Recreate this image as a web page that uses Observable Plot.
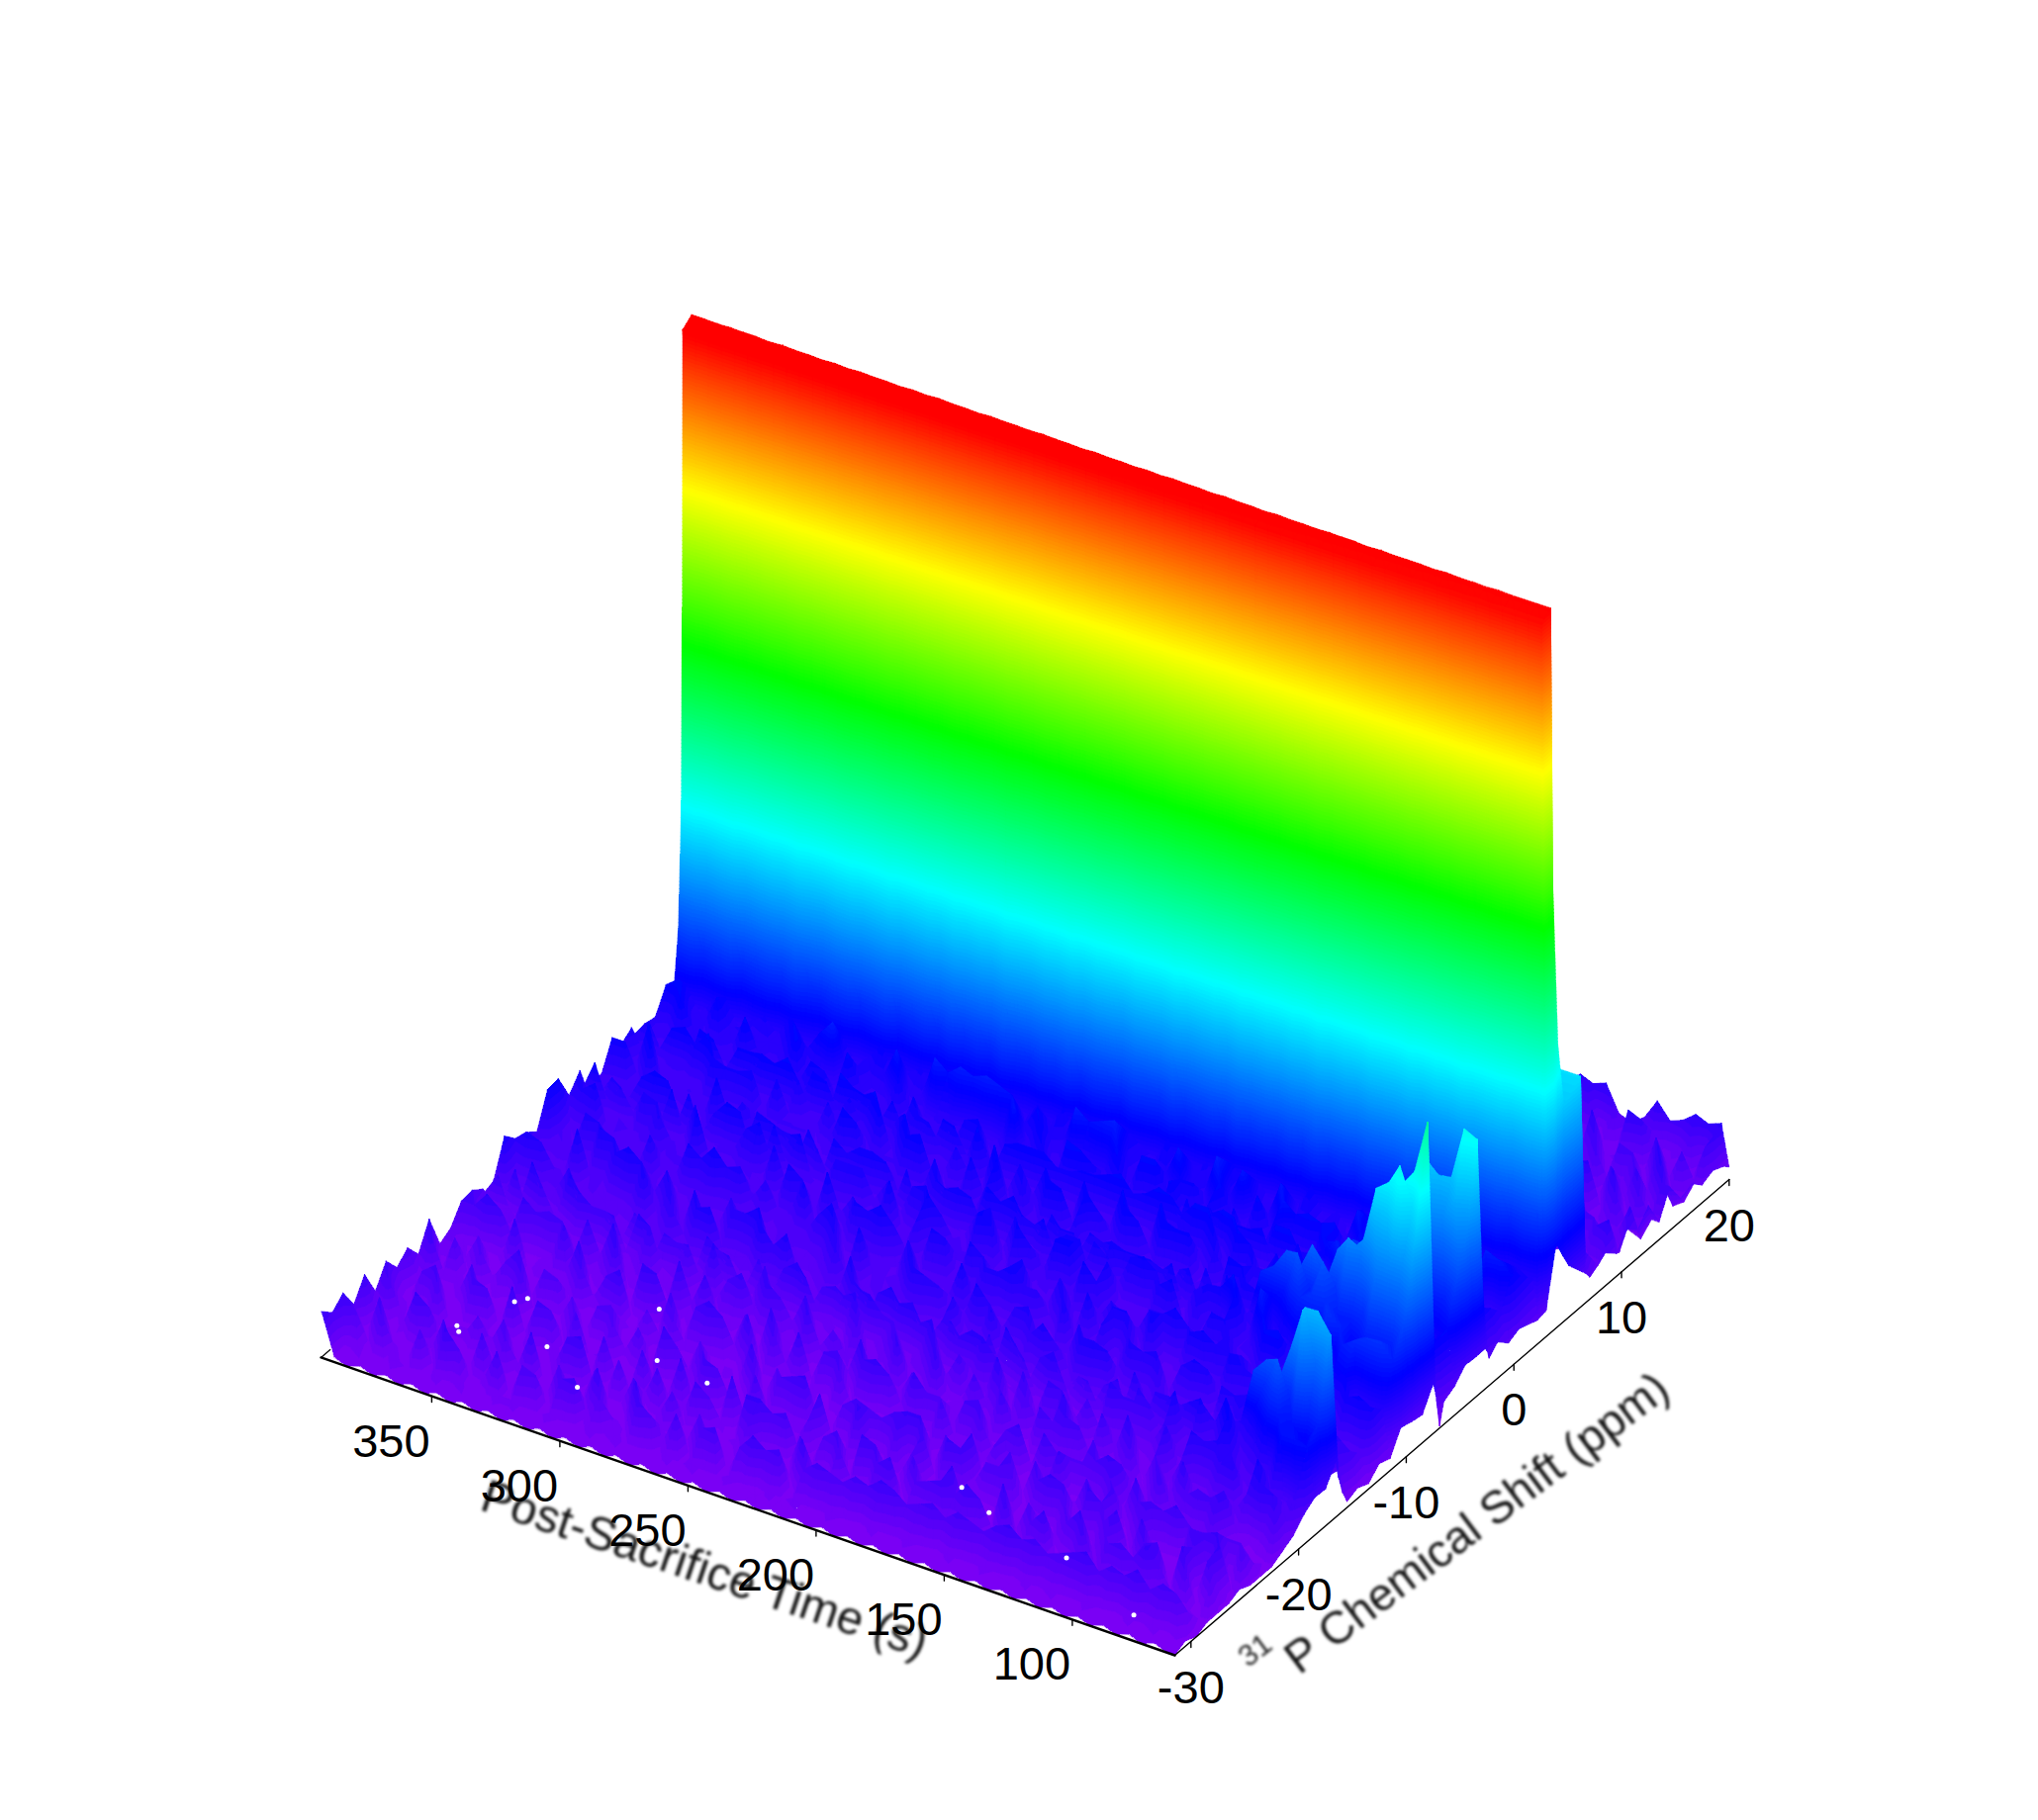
<!DOCTYPE html>
<html><head><meta charset="utf-8">
<style>html,body{margin:0;padding:0;background:#fff}</style>
<script src="https://cdn.jsdelivr.net/npm/d3@7"></script>
<script src="https://cdn.jsdelivr.net/npm/@observablehq/plot@0.6"></script>
</head><body><div id="chart"></div>
<script>
// Time rows, far to near (s)
const times = [393,388,383,378,373,368,363,358,353,348,343,338,333,328,323,318,313,308,303,298,293,288,283,278,273,268,263,258,253,248,243,238,233,228,223,218,213,208,203,198,193,188,183,178,173,168,163,158,153,148,143,138,133,128,123,118,113,108,103,98,93,88,83,78,73,68,63,60];
// Chemical-shift columns in front of the large peak (ppm)
const frontPpm = [-31.5,-30.5,-29.5,-28.5,-27.5,-26.5,-25.5,-24.5,-23.5,-22.5,-21.5,-20.5,-19.5,-18.5,-17.5,-16.5,-16.3,-15.9,-15.5,-14.5,-13.5,-12.5,-11.5,-10.5,-9.5,-8.5,-7.5,-7.3,-6.9,-6.5,-5.5,-4.5,-3.5,-2.7,-2.5,-2.3,-1.5,-0.5,0.5];
// Slow rise of the baseline towards the large peak (% of full height)
const frontFoot = [0,0,0,0,0,0,0,0,0,0,0,.3,.5,.8,1,1.3,1.4,1.6,2,2.5,3,3.3,3.5,3.8,4,4,4,4,4.2,4.3,4.5,4.7,5,5.2,5.3,5.4,5.6,6,7];
// Baseline noise, one character per column of frontPpm, one row per time
const frontNoise = [
"979594857492366432396539947333274533325",
"116017201802160170218012061902170126017",
"021802160271091208017020180260119021071",
"107120180216071020913017201602180270120",
"012091702160128017021906120217001280216",
"120271018021906102170182017029010618021",
"017102180261007201902170126108020917012",
"101802170190216028010720160912017002180",
"029016102710281006021907120180126017021",
"116002190170218016102710208012906017201",
"020817012061902170018201290160207181026",
"102160280117029010621708012091620170182",
"018021071602180290127016002180217091206",
"120190216007102810260129017008121602719",
"027102180619002170128016029107020182601",
"116028010720910260182017102906120170182",
"010719026012801720091602180271006129021",
"127001802160290118027016012908020617102",
"018260107128021906017201802160091270218",
"102917020160281070129012600218071902160",
"026010819027016021090218017026108127001",
"113072016029018107260120917018021602709",
"021908102617002801290160207118029016027",
"118020917012608027100291602107180260129",
"016271080219016029102708116002190127018",
"102018270160912081026017291080120271609",
"028106020917108026011929107201806021708",
"111702906012180217090126028017102916027",
"027010281609021071802102691071280210292",
"118029017201061908021270160281029170216",
"010269108027126091702818021072691082172",
"126017029108210261908017216029117082601",
"019208120170912608127010298017162081029",
"107102690218017029106218071029118260917",
"028170116029081270201926108270192061828",
"110926018207102910682170291062180271629",
"026108297012618028109271062918028170182",
"118270106219082171026098120271691082610",
"017029118026107291082160298172061290281",
"126108279016210928017261098127029161082",
"018270109281071602918027110826092171028",
"107291680127029108261072910682170291862",
"029108117028160271092810682171029180261",
"118260291071828017261092108270192618029",
"016172089120261079128016209271082910682",
"127089120671028160291782107261082917028",
"018261072190827106291082170926108291702",
"106290178021692071082617290180261972081",
"028170261092817026108297016218029171028",
"117029108261702918027109268102917082691",
"016281072960182710928016207192861029172",
"128017290168021790261082719028167029182",
"019260182170291608217092681027192860172",
"107192608291702168029176102890217062981",
"028106291782016927108260192781026179208",
"116029178201692078102961702890162791082",
"027182601927102860192718026109278102968",
"118026917082690127182609271802169027182",
"019270168029172601892710286091728016297",
"126081927160289017268109271682091726108",
"018267019281760291682017926108297160281",
"107298016271802691072981602179028160297",
"029160281792016827109268017926081927168",
"116029781026917082609178260197208167092",
"028170296108271960182709168027916082179",
"117208916027180296170829160278019627108",
"024152173162362415352614362134263243526",
"010111211123565733121326547504576565756"
];
// Peak position (ppm) per time row
const peakPpm = [2.05,2.07,2.09,2.1,2.12,2.14,2.16,2.18,2.2,2.22,2.24,2.26,2.27,2.29,2.31,2.33,2.35,2.37,2.39,2.41,2.42,2.44,2.46,2.48,2.5,2.52,2.54,2.56,2.57,2.59,2.61,2.63,2.65,2.67,2.69,2.71,2.72,2.74,2.76,2.78,2.8,2.82,2.84,2.86,2.87,2.89,2.91,2.93,2.95,2.97,2.99,3.01,3.02,3.04,3.06,3.08,3.1,3.12,3.14,3.16,3.17,3.19,3.21,3.23,3.25,3.27,3.29,3.05];
// Crest height per time row (% of full height)
const crestHeight = [98.6,98.6,98.5,98.6,98.5,98.5,98.4,98.5,98.4,98.4,98.3,98.4,98.3,98.4,98.3,98.3,98.2,98.3,98.2,98.3,98.2,98.2,98.1,98.2,98.1,98.1,98,98.1,98,98,97.9,98,97.9,97.9,97.8,97.9,97.8,97.9,97.8,97.8,97.7,97.8,97.7,97.7,97.6,97.7,97.6,97.6,97.5,97.6,97.5,97.5,97.4,97.5,97.4,97.4,97.4,97.3,97.4,97.3,97.3,97.2,97.3,97.2,97.2,97.2,97.2,11];
// Flank width per time row (% of the mean flank)
const flankWidth = [100,118,84,106,122,81,99,112,90,126,94,78,108,120,86,102,130,80,96,114,84,122,92,106,79,128,100,88,116,94,124,82,110,98,76,118,104,90,130,86,100,112,80,124,96,108,84,116,92,132,88,102,78,120,106,94,126,84,112,98,128,90,104,116,82,108,100,100];
// Shape of the large peak: offset from the crest (ppm) and fraction of crest height
const peakOffset = [-0.85,-0.4,-0.15,-0.05,0,0.83,1.0,1.5,2.05,3.6,4.0];
const peakShape = [.085,.17,.32,.6,.99,1,.62,.38,.29,.31,.06];
// Open lower edge of the large peak at the nearest time (% of full height)
const nearestEdge = [3.2,3.4,3.5,3.6,4,11,11,9,7,4,3];
// Floor behind the large peak, visible only at short times
const backPpm = [8.5,9.5,10.5,11.5,12.5,13.5,14.5,15.5,16.5,17.5,18.5,19.5,20];
const backTimes = [138,133,128,123,118,113,108,103,98,93,88,83,78,73,68,63,60];
const backNoise = [
"1402170291406","2170418021705","0281027160324","1702160281907","3016208017269","2170291602178",
"0291704180219","1602817029154","2810160271023","0172081602915","2601290170849","1028017260216",
"3170291608127","0261708291069","1702160917028","2918027102789","5364727342321"
];
// The three small peaks that fade with time
const ridgeTimes = [60,63,68,73,78,83,88,93,98,103,108,113,118,123,128,133,138,143,148,153,158];
const ridgeA = [2,37,29,28,27,20,18,16,12,11,10,11,8,6,4,3,2,1,0,0,0];
const ridgeB = [2,27,25,22,21,17,16,13,10,8,7,5,3,2,1,0,0,0,0,0,0];
const ridgeC = [3,22,19,21,14,13,10,8,6,6,4,3,2,2,1,1,0,0,0,0,0];
const ridgeAPpm = [-12.5,-11.5,-10.5,-9.5,-8.5,-7.5,-7.3,-6.9,-6.5];
const ridgeAShape = [.05,.1,.18,.3,.5,.9,1,.12,.03];
const ridgeBPpm = [-6.5,-5.5,-4.5,-3.5,-2.7,-2.5,-2.3];
const ridgeBShape = [.1,.2,.33,.6,1,.4,.1];
const ridgeCPpm = [-21.5,-20.5,-19.5,-18.5,-17.5,-16.5,-16.3,-15.9,-15.5];
const ridgeCShape = [.05,.1,.18,.3,.5,.9,1,.12,.03];
// Tiny white drop-outs in the surface
const gapTimes = [357.6,355,365.8,363.4,315,299,277.8,312.5,334,173.4,157.7,84.4,121.6];
const gapPpm = [-22,-21.4,-25.4,-25.8,-18.7,-22.7,-23.1,-26.9,-24.6,-24.3,-25.5,-29.5,-26.9];
// Axes
const timeTicks = [350,300,250,200,150,100];
const ppmTicks = [-30,-20,-10,0,10,20];
const tMax = 393.2, tMin = 60, pMin = -31.5, pMax = 20;
const levelStops = [0,11,33,55,76,97];
const levelColors = ["rgb(128,0,245)","#0000ff","#00ffff","#00ff00","#ffff00","#ff0000"];

const project3d = d3.geoTransform({
  point(t, p, z) {
    const dt = t - 60, dp = p + 31.5;
    this.stream.point(1187 - 2.59 * dt + 10.88 * dp,
                      1673 - 0.9034 * dt - 9.34 * dp - 7.44 * (z || 0));
  }
});

function ridgeAt(tIdx, list, ppmList, shape, p) {
  const k = ppmList.indexOf(p);
  return k < 0 || tIdx < 0 ? 0 : list[tIdx] * shape[k];
}
const nF = frontPpm.length, nW = peakOffset.length, nB = backPpm.length;
const grid = times.map((t, i) => {
  const rIdx = ridgeTimes.indexOf(t), crest = crestHeight[i], flank = flankWidth[i] / 100;
  const frac = Math.min(1, crest / 97);
  const cols = frontPpm.map((p, c) => {
    const d = +(frontNoise[i][c] ?? 2);
    const z = d * 0.7 + (t === 60 ? 0 : frontFoot[c] * frac)
      + ridgeAt(rIdx, ridgeA, ridgeAPpm, ridgeAShape, p)
      + ridgeAt(rIdx, ridgeB, ridgeBPpm, ridgeBShape, p)
      + ridgeAt(rIdx, ridgeC, ridgeCPpm, ridgeCShape, p);
    return [t, p, z];
  });
  peakOffset.forEach((o, k) => {
    const f = o < 0 ? flank : 1;
    cols.push([t, peakPpm[i] + o, t === 60 ? nearestEdge[k] : peakShape[k] * f * crest]);
  });
  const b = backTimes.indexOf(t);
  backPpm.forEach((p, k) => cols.push([t, p, b < 0 ? 0 : +backNoise[b][k] * 0.7 + 1]));
  return cols;
});

function clipZ(poly, level, keepAbove) {
  const out = [];
  for (let i = 0; i < poly.length; i++) {
    const a = poly[i], b = poly[(i + 1) % poly.length];
    const ia = keepAbove ? a[2] >= level : a[2] <= level;
    const ib = keepAbove ? b[2] >= level : b[2] <= level;
    if (ia) out.push(a);
    if (ia !== ib) {
      const u = (level - a[2]) / (b[2] - a[2]);
      out.push([a[0] + u * (b[0] - a[0]), a[1] + u * (b[1] - a[1]), level]);
    }
  }
  return out;
}
const cells = [];
function addTriangle(tri) {
  const zs = tri.map(v => v[2]);
  const top = Math.max(...zs), dz = top > 12 ? 0.5 : 1;
  const lo = Math.floor(Math.min(...zs)), hi = Math.ceil(top);
  for (let L = lo; L < Math.max(hi, lo + dz); L += dz) {
    let poly = clipZ(tri, L, true);
    if (poly.length >= 3) poly = clipZ(poly, L + dz, false);
    if (poly.length >= 3) cells.push({type: "Polygon", coordinates: [[...poly, poly[0]]], level: L + dz / 2});
  }
}
for (let i = 0; i < times.length - 1; i++) {
  const far = grid[i], near = grid[i + 1], t = times[i];
  for (let c = nF + nW + nB - 2; c >= 0; c--) {
    if (c >= nF + nW - 1 && t > 138) continue;
    if (c >= nF + 5 && c < nF + nW && t > 93) continue;
    addTriangle([far[c], far[c + 1], near[c]]);
    addTriangle([far[c + 1], near[c + 1], near[c]]);
  }
}

const line = (a, b) => ({type: "LineString", coordinates: [a, b]});
const blur = (px) => (index, scales, values, dims, ctx, next) => {
  const g = next(index, scales, values, dims, ctx);
  g.style.filter = `blur(${px}px)`;
  return g;
};
const plot = Plot.plot({
  width: 2060, height: 1840, margin: 0,
  style: {background: "white", fontFamily: "'Liberation Sans', Arial, sans-serif"},
  projection: project3d,
  color: {type: "linear", domain: levelStops, range: levelColors, clamp: true, legend: false},
  marks: [
    Plot.geo(cells, {fill: d => d.level, stroke: d => d.level, strokeWidth: 0.5, shapeRendering: "crispEdges"}),
    Plot.dot(gapTimes.map((t, i) => [t, gapPpm[i]]), {x: d => d[0], y: d => d[1], r: 2.5, fill: "white"}),
    Plot.geo([line([tMax, pMin], [tMin, pMin])], {stroke: "black", strokeWidth: 2.4}),
    Plot.geo([line([tMin, pMin], [tMin, pMax])], {stroke: "black", strokeWidth: 1.4}),
    Plot.geo([line([tMax, pMin], [tMax, pMin + 0.85])], {stroke: "black", strokeWidth: 1.2}),
    Plot.geo(timeTicks.map(t => line([t, pMin, 0], [t, pMin, -0.8])), {stroke: "black", strokeWidth: 1.4}),
    Plot.geo(ppmTicks.map(p => line([tMin, p, 0], [tMin, p, -0.8])), {stroke: "black", strokeWidth: 1.4}),
    Plot.text(["Post-Sacrifice Time (s)"], {x: () => 230, y: () => pMin, dx: -35, dy: 67, rotate: 18.6, fontSize: 47, fill: "#111", render: blur(1.4)}),
    Plot.text(["P Chemical Shift (ppm)"], {x: () => tMin, y: () => -5, dx: 17, dy: 114, rotate: -37, fontSize: 46, fill: "#111", render: blur(1.4)}),
    Plot.text(["31"], {x: () => tMin, y: () => -30, dx: 65, dy: 9, rotate: -37, fontSize: 30, fill: "#222", render: blur(1.4)}),
    Plot.text(timeTicks, {x: d => d, y: () => pMin, text: d => String(d), dx: -41, dy: 46, fontSize: 47, fill: "black"}),
    Plot.text(ppmTicks, {x: () => tMin, y: d => d, text: d => String(d), dx: 0, dy: 47, fontSize: 47, fill: "black"})
  ]
});
document.getElementById("chart").appendChild(plot);
</script></body></html>
